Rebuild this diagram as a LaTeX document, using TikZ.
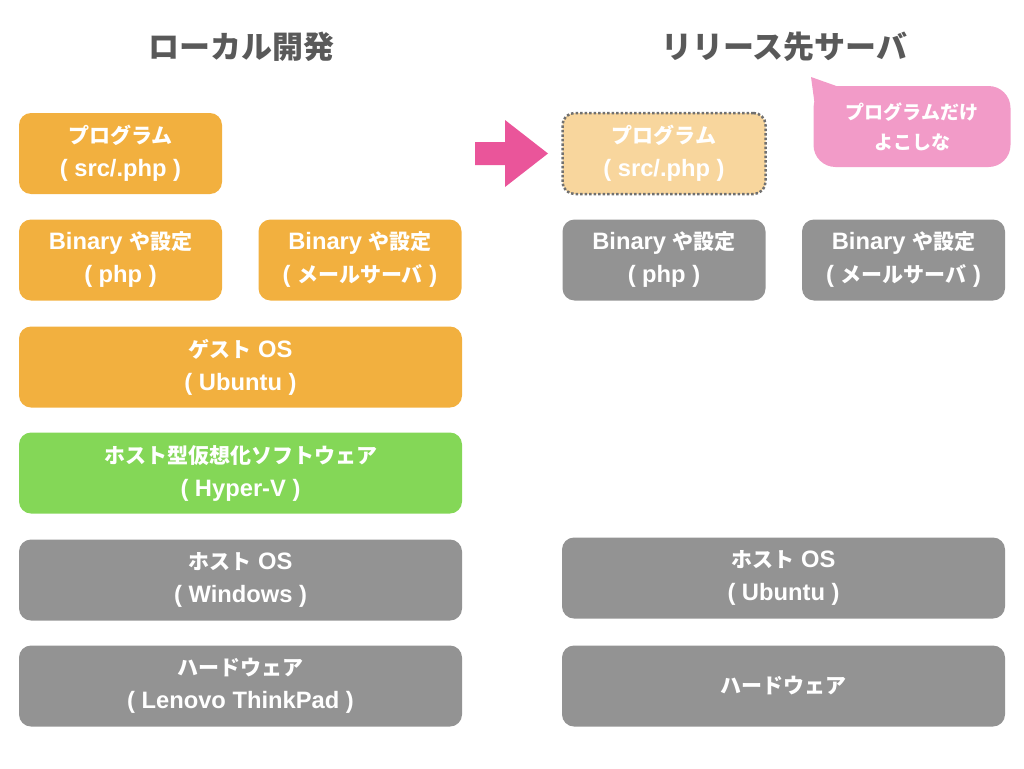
\documentclass[tikz,border=0pt]{standalone}
\usepackage{fontspec}
\setmainfont{Noto Sans CJK JP}
\newfontfamily\latinsans{Liberation Sans}[Scale=1.13]
\newcommand\eng[1]{{\latinsans #1}}
\usetikzlibrary{positioning}
\definecolor{titlegray}{HTML}{595959}
\definecolor{orangeL}{HTML}{F2B03F}
\definecolor{orangeP}{HTML}{F8D69D}
\definecolor{greenV}{HTML}{84D757}
\definecolor{grayL}{HTML}{939393}
\definecolor{dotgray}{HTML}{707070}
\definecolor{pinkA}{HTML}{EA559A}
\definecolor{pinkB}{HTML}{F29BC8}

\tikzset{
  layer/.style={rounded corners=12pt,inner sep=0pt,text=white,align=center,
    font=\fontsize{21}{33}\selectfont\bfseries},
  half/.style={layer,minimum width=203pt,minimum height=81pt},
  full/.style={layer,minimum width=443pt,minimum height=81pt},
  heading/.style={text=titlegray,font=\fontsize{31}{36}\selectfont\bfseries}
}

\begin{document}
\begin{tikzpicture}[x=1pt,y=-1pt,line join=round]
  \useasboundingbox (0,0) rectangle (1024,768);

  % local development
  \node[heading] (localtitle) at (241,47) {ローカル開発};
  \node[half,fill=orangeL] (prog) at (120.5,153.5) {プログラム\\\eng{( src/.php )}};
  \node[half,fill=orangeL] (binphp) at (120.5,260) {\eng{Binary }や設定\\\eng{( php )}};
  \node[half,fill=orangeL] (binmail) at (360,260) {\eng{Binary }や設定\\\eng{( }メールサーバ\eng{ )}};
  \node[full,fill=orangeL] (guest) at (240.5,367) {ゲスト\eng{ OS}\\\eng{( Ubuntu )}};
  \node[full,fill=greenV] (hyperv) at (240.5,473) {ホスト型仮想化ソフトウェア\\\eng{( Hyper-V )}};
  \node[full,fill=grayL] (hostos) at (240.5,580) {ホスト\eng{ OS}\\\eng{( Windows )}};
  \node[full,fill=grayL] (hw) at (240.5,686) {ハードウェア\\\eng{( Lenovo ThinkPad )}};

  % release server
  \node[heading] (srvtitle) at (784.5,47) {リリース先サーバ};
  \node[half,fill=orangeP,draw=dotgray,line width=2.5pt,dash pattern=on 2.5pt off 2pt]
    (srvprog) at (664,153.5) {プログラム\\\eng{( src/.php )}};
  \node[half,fill=grayL] (srvbinphp) at (664,260) {\eng{Binary }や設定\\\eng{( php )}};
  \node[half,fill=grayL] (srvbinmail) at (903.5,260) {\eng{Binary }や設定\\\eng{( }メールサーバ\eng{ )}};
  \node[full,fill=grayL] (srvhostos) at (783.5,578) {ホスト\eng{ OS}\\\eng{( Ubuntu )}};
  \node[full,fill=grayL] (srvhw) at (783.5,686) {ハードウェア};

  % deploy arrow
  \fill[pinkA] (475,142) -- (505,142) -- (505,120) -- (548,153.5)
    -- (505,187) -- (505,165) -- (475,165) -- cycle;

  % speech bubble
  \fill[pinkB] (811,77) -- (842,88) -- (816,114) -- cycle;
  \node[layer,fill=pinkB,rounded corners=22pt,minimum width=197pt,minimum height=81pt,
    font=\fontsize{19}{30}\selectfont\bfseries] (note) at (912,126.5) {プログラムだけ\\よこしな};
\end{tikzpicture}
\end{document}
